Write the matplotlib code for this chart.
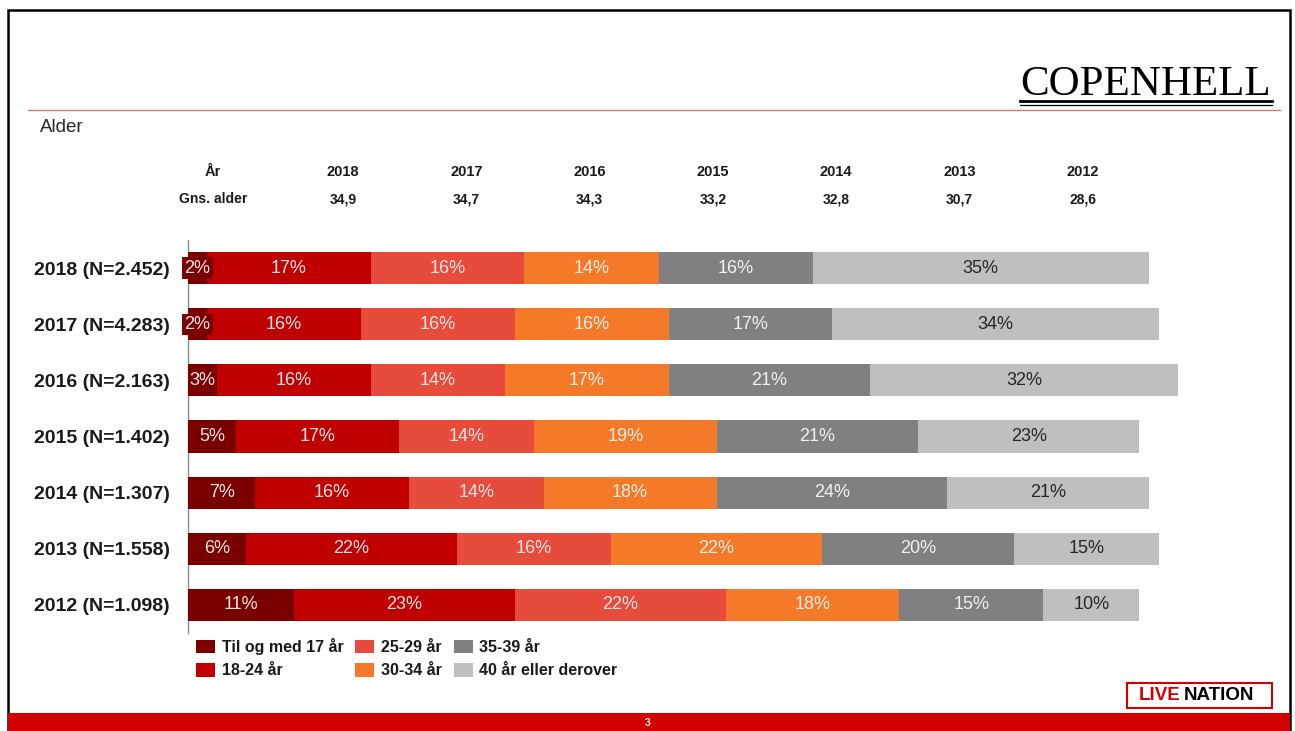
import matplotlib
matplotlib.use("Agg")
import matplotlib.pyplot as plt
from matplotlib.patches import Rectangle, Patch
from matplotlib.lines import Line2D
import numpy as np

# ---------------- data ----------------
rows = ['2018 (N=2.452)', '2017 (N=4.283)', '2016 (N=2.163)', '2015 (N=1.402)',
        '2014 (N=1.307)', '2013 (N=1.558)', '2012 (N=1.098)']
til17 = [2, 2, 3, 5, 7, 6, 11]
a18_24 = [17, 16, 16, 17, 16, 22, 23]
a25_29 = [16, 16, 14, 14, 14, 16, 22]
a30_34 = [14, 16, 17, 19, 18, 22, 18]
a35_39 = [16, 17, 21, 21, 24, 20, 15]
a40plus = [35, 34, 32, 23, 21, 15, 10]
series_names = ['Til og med 17 år', '18-24 år', '25-29 år', '30-34 år', '35-39 år',
                '40 år eller derover']
header_years = ['2018', '2017', '2016', '2015', '2014', '2013', '2012']
avg_age = ['34,9', '34,7', '34,3', '33,2', '32,8', '30,7', '28,6']

series = [til17, a18_24, a25_29, a30_34, a35_39, a40plus]
colors = ['#7a0000', '#c00000', '#e64b3c', '#f47a2a', '#808080', '#bfbfbf']
text_colors = ['#f3e6e6', '#f3e6e6', '#f6e6e6', '#fbeee6', '#f2f2f2', '#262626']

W, H = 1295, 731
fig = plt.figure(figsize=(W / 100, H / 100), dpi=100)
fig.patch.set_facecolor('white')

def fx(px):
    return px / W

def fy(py):
    return 1 - py / H

SANS = ['Liberation Sans', 'DejaVu Sans']
NARROW = ['Liberation Sans Narrow', 'Liberation Sans', 'DejaVu Sans']

# ---------------- bars ----------------
ax_l, ax_r, ax_t, ax_b = 188, 1200, 240, 633
ax = fig.add_axes([fx(ax_l), fy(ax_b), fx(ax_r - ax_l), (ax_b - ax_t) / H])
px_per_unit = 9.61
ax.set_xlim(0, (ax_r - ax_l) / px_per_unit)
n = len(rows)
ypos = np.arange(n)
ax.set_ylim(n - 0.5, -0.5)

left = np.zeros(n)
for vals, c, tc in zip(series, colors, text_colors):
    vals = np.array(vals, dtype=float)
    ax.barh(ypos, vals, left=left, height=0.57, color=c, edgecolor='none', zorder=2)
    for i, v in enumerate(vals):
        cx = left[i] + v / 2
        kw = {}
        if v < 3:
            kw['bbox'] = dict(boxstyle='square,pad=0.12', facecolor=c, edgecolor='none')
        ax.text(cx, ypos[i], f'{int(round(v))}%', ha='center', va='center',
                color=tc, fontsize=13, family=SANS, zorder=3, **kw)
    left += vals

ax.set_yticks(ypos)
ax.set_yticklabels(rows, family=SANS, fontsize=14, fontweight='bold', color='#1a1a1a')
ax.tick_params(axis='y', length=0, pad=13)
ax.set_xticks([])
for s in ['top', 'right', 'bottom']:
    ax.spines[s].set_visible(False)
ax.spines['left'].set_color('#8c8c8c')
ax.spines['left'].set_linewidth(1.0)
ax.spines['left'].set_zorder(1)

# ---------------- header table ----------------
fig.text(fx(213), fy(172), 'År', ha='center', va='center', family=NARROW,
         fontweight='bold', fontsize=10.5, color='#1a1a1a')
fig.text(fx(213), fy(199), 'Gns. alder', ha='center', va='center', family=NARROW,
         fontweight='bold', fontsize=10, color='#1a1a1a')
for k, (yr, ag) in enumerate(zip(header_years, avg_age)):
    x = 343 + k * 123.3
    fig.text(fx(x), fy(172), yr, ha='center', va='center', family=NARROW,
             fontweight='bold', fontsize=10.5, color='#1a1a1a')
    fig.text(fx(x), fy(199), ag, ha='center', va='center', family=NARROW,
             fontweight='bold', fontsize=10, color='#1a1a1a')

# ---------------- title & decorations ----------------
fig.text(fx(40), fy(127), 'Alder', ha='left', va='center', family=SANS,
         fontsize=13.5, color='#262626')
fig.add_artist(Line2D([fx(28), fx(1280)], [fy(110), fy(110)], color='#cf7a7a',
                      lw=1.0, transform=fig.transFigure))
# slide border
fig.add_artist(Rectangle((fx(8), 0), fx(1290 - 8), fy(10), fill=False,
                         edgecolor='black', lw=1.8, transform=fig.transFigure))
# bottom red band
fig.add_artist(Rectangle((fx(8), 0), fx(1290 - 8), (731 - 713) / H,
                         facecolor='#d30000', edgecolor='none',
                         transform=fig.transFigure))
fig.text(fx(648), fy(723), '3', ha='center', va='center', color='white',
         fontsize=7.5, fontweight='bold', family=SANS)

# COPENHELL logo
fig.text(fx(1146), fy(85), 'COPENHELL', ha='center', va='center',
         family=['Liberation Serif', 'DejaVu Serif'], fontsize=31, color='black')
fig.add_artist(Line2D([fx(1020), fx(1272)], [fy(101), fy(101)], color='black',
                      lw=2.0, transform=fig.transFigure))
fig.add_artist(Line2D([fx(1020), fx(1272)], [fy(104.5), fy(104.5)], color='black',
                      lw=0.9, transform=fig.transFigure))

# LIVE NATION logo
fig.add_artist(Rectangle((fx(1127), fy(708)), fx(1272 - 1127), (708 - 683) / H,
                         fill=False, edgecolor='#d40000', lw=1.5,
                         transform=fig.transFigure))
fig.text(fx(1181), fy(696), 'LIVE', ha='right', va='center', color='#d40000',
         fontsize=13.5, fontweight='bold', family=SANS)
fig.text(fx(1184), fy(696), 'NATION', ha='left', va='center', color='black',
         fontsize=13.5, fontweight='bold', family=SANS)

# ---------------- legend ----------------
handles = [Patch(facecolor=c, edgecolor='none') for c in colors]
leg = fig.legend(handles, series_names, loc='upper left',
                 bbox_to_anchor=(fx(196), fy(638)), ncol=3, frameon=False,
                 prop=dict(family=SANS, weight='bold', size=11.5),
                 handlelength=1.2, handleheight=0.95, handletextpad=0.4,
                 columnspacing=0.75, labelspacing=0.5, borderpad=0, borderaxespad=0)
for t in leg.get_texts():
    t.set_color('#1a1a1a')

fig.savefig('out.png', dpi=100, facecolor='white')
